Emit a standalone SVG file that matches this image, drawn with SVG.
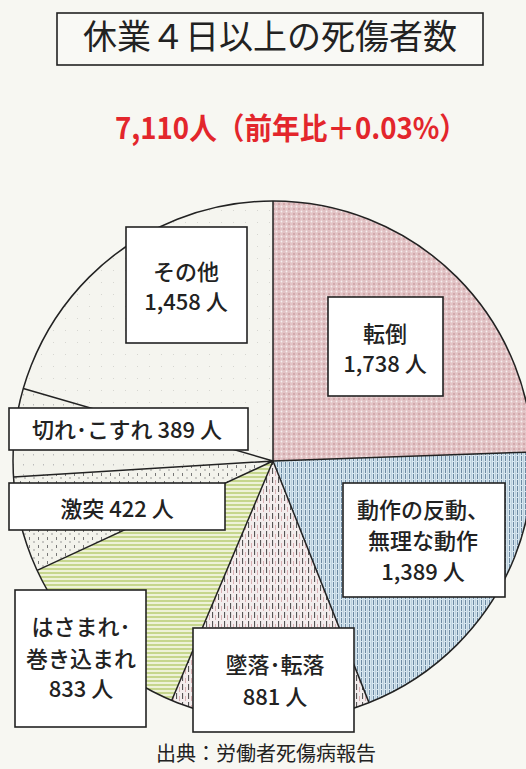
<svg xmlns="http://www.w3.org/2000/svg" width="526" height="769" viewBox="0 0 526 769">
<defs>
<style>
.t{font-family:"Noto Sans CJK JP","Noto Sans",sans-serif;fill:#222;}
.lbl{font-size:22px;text-anchor:middle;font-weight:500;}
.box{fill:#ffffff;stroke:#222;stroke-width:1.6;}
.edge{stroke:#222;stroke-width:1.5;fill:none;}
</style>
<pattern id="pPink" width="5" height="5" patternUnits="userSpaceOnUse">
<rect width="5" height="5" fill="#e2c3c5"/>
<circle cx="1.5" cy="1.5" r="0.9" fill="#f7efef"/>
<rect x="3" y="3.5" width="2" height="1" fill="#c38f94"/>
</pattern>
<pattern id="pBlue" width="4" height="6" patternUnits="userSpaceOnUse">
<rect width="4" height="6" fill="#d6e6ef"/>
<rect x="1" y="0" width="1" height="5" fill="#6d8aa3"/>
<rect x="3" y="0" width="0.6" height="6" fill="#a9c2d4"/>
</pattern>
<pattern id="pVert" width="6" height="9" patternUnits="userSpaceOnUse">
<rect width="6" height="9" fill="#f3eded"/>
<rect x="2" y="0" width="1.1" height="6" fill="#555"/>
<rect x="5" y="3" width="0.6" height="5" fill="#c98a8f"/>
</pattern>
<pattern id="pGreen" width="6" height="4" patternUnits="userSpaceOnUse">
<rect width="6" height="4" fill="#eef2d8"/>
<rect y="0" width="6" height="2" fill="#c6d68d"/>
</pattern>
<pattern id="pDash" width="9" height="8" patternUnits="userSpaceOnUse">
<rect width="9" height="8" fill="#f3f3ec"/>
<rect x="2" y="1" width="1" height="3" fill="#777"/>
<rect x="6.5" y="5" width="1" height="2" fill="#999"/>
</pattern>
<pattern id="pLight" width="10" height="10" patternUnits="userSpaceOnUse">
<rect width="10" height="10" fill="#f2f2eb"/>
<rect x="3" y="4" width="1" height="1.5" fill="#bbb"/>
</pattern>
<pattern id="pOther" width="12" height="12" patternUnits="userSpaceOnUse">
<rect width="12" height="12" fill="#f5f5ef"/>
<rect x="5" y="6" width="1" height="1" fill="#d6d6d0"/>
</pattern>
</defs>
<rect width="526" height="769" fill="#f7f7f2"/>

<g id="title">
<rect x="57" y="13" width="426" height="52" fill="#f9f9f5" stroke="#222" stroke-width="1.6"/>
<text class="t" x="270" y="49" font-size="34" text-anchor="middle">休業４日以上の死傷者数</text>
</g>
<g id="total">
<text class="t" x="115" y="139" font-size="30" font-weight="700" style="fill:#e3262c" textLength="352" lengthAdjust="spacingAndGlyphs">7,110人（前年比＋0.03%）</text>
</g>

<g id="slices">
<path id="s-tento" d="M273,461 L273,201 A260,260 0 0,1 532.84,451.93 Z" fill="url(#pPink)"/>
<path id="s-dosa" d="M273,461 L532.84,451.93 A260,260 0 0,1 369,702.6 Z" fill="url(#pBlue)"/>
<path id="s-tsuiraku" d="M273,461 L369,702.6 A260,260 0 0,1 171.66,700.44 Z" fill="url(#pVert)"/>
<path id="s-hasamare" d="M273,461 L171.66,700.44 A260,260 0 0,1 37.16,570.44 Z" fill="url(#pGreen)"/>
<path id="s-gekitotsu" d="M273,461 L37.16,570.44 A260,260 0 0,1 13.49,476.96 Z" fill="url(#pDash)"/>
<path id="s-kire" d="M273,461 L13.49,476.96 A260,260 0 0,1 23.3,388.55 Z" fill="url(#pLight)"/>
<path id="s-sonota" d="M273,461 L23.3,388.55 A260,260 0 0,1 273,201 Z" fill="url(#pOther)"/>
</g>
<g id="connectors">
<circle class="edge" cx="273" cy="461" r="260"/>
<path class="edge" d="M273,461 L273,201 M273,461 L532.84,451.93 M273,461 L369,702.6 M273,461 L171.66,700.44 M273,461 L37.16,570.44 M273,461 L13.49,476.96 M273,461 L23.3,388.55"/>
</g>

<g id="n-sonota">
<rect class="box" x="126" y="227" width="121" height="116"/>
<text class="t lbl" x="186" y="280">その他</text>
<text class="t lbl" x="186" y="310">1,458 人</text>
</g>
<g id="n-tento">
<rect class="box" x="328" y="297" width="115" height="99"/>
<text class="t lbl" x="385" y="342">転倒</text>
<text class="t lbl" x="385" y="372">1,738 人</text>
</g>
<g id="n-kire">
<rect class="box" x="9" y="408" width="239" height="42"/>
<text class="t lbl" x="127" y="438">切れ･こすれ 389 人</text>
</g>
<g id="n-gekitotsu">
<rect class="box" x="9" y="483" width="216" height="47"/>
<text class="t lbl" x="117" y="517">激突 422 人</text>
</g>
<g id="n-dosa">
<rect class="box" x="343" y="483" width="162" height="114"/>
<text class="t lbl" x="423" y="518">動作の反動、</text>
<text class="t lbl" x="423" y="549">無理な動作</text>
<text class="t lbl" x="423" y="580">1,389 人</text>
</g>
<g id="n-hasamare">
<rect class="box" x="15" y="590" width="131" height="137"/>
<text class="t lbl" x="81" y="635">はさまれ･</text>
<text class="t lbl" x="81" y="667">巻き込まれ</text>
<text class="t lbl" x="81" y="697">833 人</text>
</g>
<g id="n-tsuiraku">
<rect class="box" x="193" y="628" width="161" height="104"/>
<text class="t lbl" x="275" y="673">墜落･転落</text>
<text class="t lbl" x="275" y="705">881 人</text>
</g>
<g id="source">
<text class="t" x="266" y="761" font-size="20" text-anchor="middle">出典：労働者死傷病報告</text>
</g>
</svg>
